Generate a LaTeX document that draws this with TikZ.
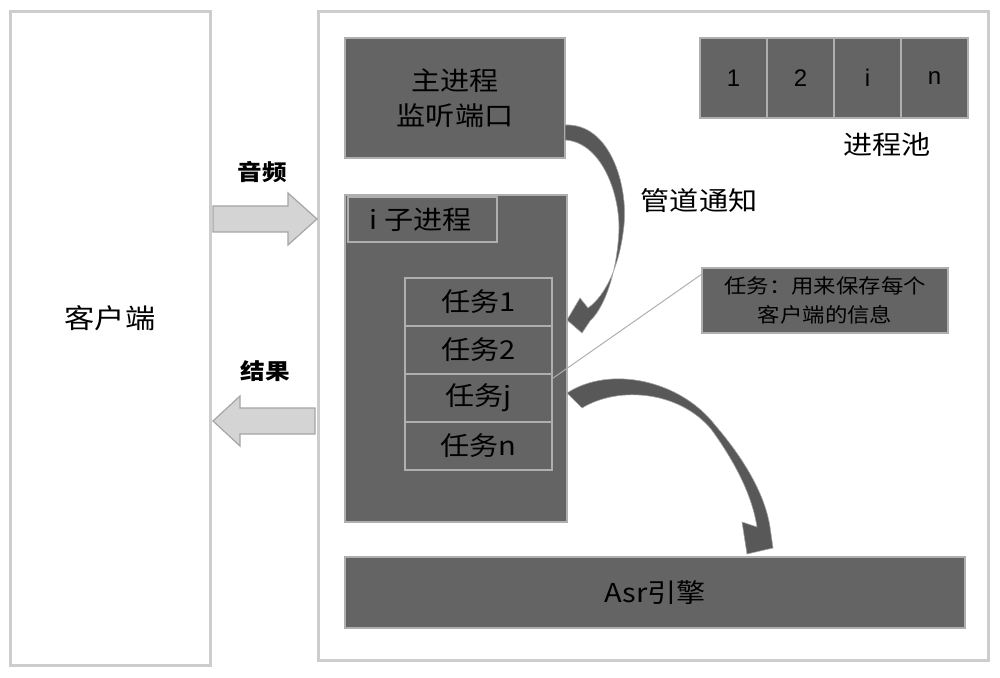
\documentclass[tikz,border=0pt]{standalone}
\usepackage{fontspec}
\setmainfont[FakeStretch=1.12]{Noto Sans CJK SC}
\newfontfamily\arialf{Liberation Sans}
\usetikzlibrary{fit,calc}
\definecolor{boxfill}{RGB}{100,100,100}
\definecolor{framec}{RGB}{205,205,205}
\definecolor{innerc}{RGB}{175,175,175}
\definecolor{arrowfill}{RGB}{212,212,212}
\definecolor{arrowedge}{RGB}{165,165,165}
\definecolor{curvefill}{RGB}{88,88,88}
\begin{document}
\begin{tikzpicture}[x=0.5pt,y=-0.5pt,
  framebox/.style={draw=framec, line width=1.5pt, inner sep=0pt},
  darkbox/.style={draw=innerc, fill=boxfill, line width=0.6pt, inner sep=0pt},
  txt/.style={inner sep=0pt, align=center, text=black},
  bigtxt/.style={txt, font=\fontsize{13}{17.5}\selectfont},
  smalltxt/.style={txt, font=\fontsize{10}{14.5}\selectfont},
  boldtxt/.style={txt, font=\fontsize{11}{14}\selectfont\bfseries},
  digit/.style={txt, font=\arialf\fontsize{12}{14}\selectfont},
  flow/.style={draw=arrowedge, fill=arrowfill, line width=0.6pt},
  curved/.style={fill=curvefill, draw=arrowedge, line width=0.3pt},
  leader/.style={draw=innerc, line width=0.5pt}]
\useasboundingbox (0,0) rectangle (1000,678);

% outer frames
\node[framebox, fit={(10,12)(210,665)}] (client) {};
\node[bigtxt, font=\fontsize{13.5}{17}\selectfont] (clientlbl) at ($(client.center)+(0,-20)$) {客户端};
\node[framebox, fit={(318,12)(988,660)}] (server) {};

% main process
\node[darkbox, fit={(345,38)(565,158)}] (main) {};
\node[bigtxt] (mainlbl) at (main.center) {主进程\\监听端口};

% process pool
\node[darkbox, fit={(700,38)(767,118)}] (p1) {};
\node[darkbox, fit={(767,38)(834,118)}] (p2) {};
\node[darkbox, fit={(834,38)(901,118)}] (pi) {};
\node[darkbox, fit={(901,38)(968,118)}] (pn) {};
\node[digit] (p1lbl) at (p1.center) {1};
\node[digit] (p2lbl) at (p2.center) {2};
\node[digit] (pilbl) at (pi.center) {i};
\node[digit] (pnlbl) at (pn.center) {n};
\node[bigtxt] (pool) at (887,145) {进程池};

% sub process
\node[darkbox, fit={(345,195)(567,522)}] (sub) {};
\node[darkbox, fit={(348,197)(497,242)}] (sublabel) {};
\node[bigtxt] (sublbl) at ($(sublabel.center)+(-2,0)$) {i 子进程};
\node[darkbox, fit={(405,278)(552,326)}] (t1) {};
\node[darkbox, fit={(405,326)(552,374)}] (t2) {};
\node[darkbox, fit={(405,374)(552,422)}] (tj) {};
\node[darkbox, fit={(405,422)(552,470)}] (tn) {};
\node[bigtxt] (t1lbl) at (t1.center) {任务1};
\node[bigtxt] (t2lbl) at (t2.center) {任务2};
\node[bigtxt] (tjlbl) at (tj.center) {任务j};
\node[bigtxt] (tnlbl) at (tn.center) {任务n};

% note
\node[darkbox, fit={(702,268)(948,333)}] (note) {};
\node[smalltxt] (notelbl) at (note.center) {任务：用来保存每个\\客户端的信息};
\draw[leader] ($(note.north west)+(0,7)$) -- ($(tj.north east)+(0,5)$);

% asr
\node[darkbox, fit={(345,557)(965,628)}] (asr) {};
\node[bigtxt] (asrlbl) at (asr.center) {Asr引擎};

% pipe label
\node[bigtxt] (pipe) at (699,201) {管道通知};

% flow arrows
\coordinate (audiotail) at (213,219);
\coordinate (audiotip) at (317,219);
\path[flow] (audiotail) ++(0,-13) -- (288,206) -- (288,193) -- (audiotip)
  -- (288,245) -- (288,232) -- ($(audiotail)+(0,13)$) -- cycle;
\coordinate (resulttail) at (315,421);
\coordinate (resulttip) at (213,421);
\path[flow] (resulttail) ++(0,-13) -- (240,408) -- (240,396) -- (resulttip)
  -- (240,446) -- (240,434) -- ($(resulttail)+(0,13)$) -- cycle;
\node[boldtxt] (audiolbl) at (262,172) {音频};
\node[boldtxt] (resultlbl) at (265,371) {结果};

% curved arrow main -> task 1
\path[curved] (565,125) .. controls (610,123) and (628,185) .. (624,225)
  .. controls (620,265) and (606,295) .. (588,308)
  -- (580,298) -- (567,320) -- (582,333) -- (590,321)
  .. controls (607,305) and (618,265) .. (619,228)
  .. controls (619,190) and (600,142) .. (565,140) -- cycle;

% curved arrow task j -> asr
\path[curved] (567,393) .. controls (610,365) and (680,380) .. (715,425)
  .. controls (745,460) and (765,495) .. (770,527)
  -- (773,548) -- (747,554) -- (742,522) -- (757,527)
  .. controls (752,495) and (735,462) .. (711,429)
  .. controls (680,392) and (620,385) .. (582,408) -- cycle;
\end{tikzpicture}
\end{document}
